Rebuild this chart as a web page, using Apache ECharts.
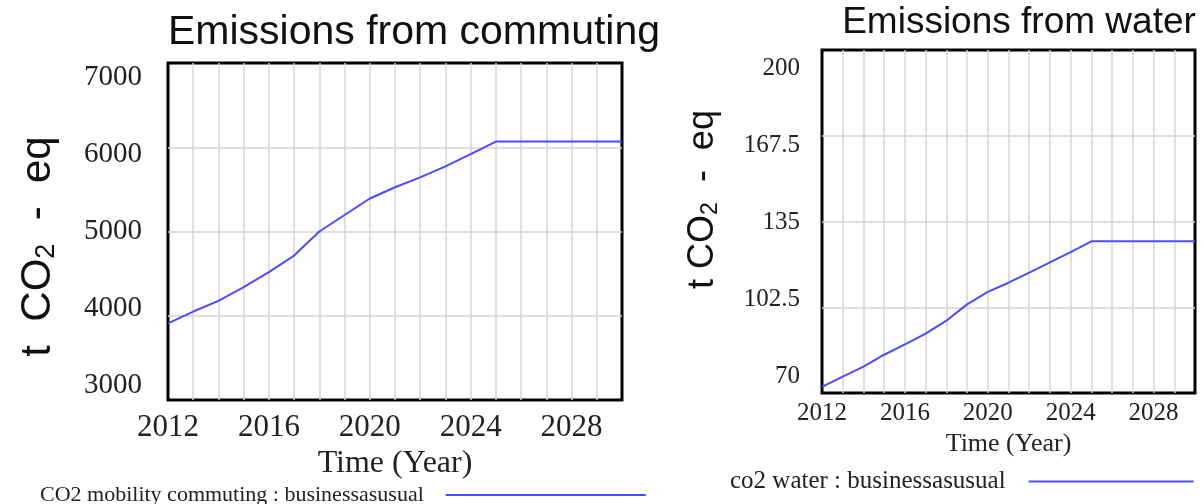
<!DOCTYPE html>
<html>
<head>
<meta charset="utf-8">
<script src="https://cdn.jsdelivr.net/npm/echarts@6/dist/echarts.min.js"></script>
<style>
html,body{margin:0;padding:0;background:#fff;}
#chart{width:1204px;height:504px;}
</style>
</head>
<body>
<div id="chart"></div>
<script>
// ---- data ----
const years = [2012,2013,2014,2015,2016,2017,2018,2019,2020,2021,2022,2023,2024,2025,2026,2027,2028,2029,2030];
const commuting = [3910,4050,4176,4340,4518,4714,5000,5196,5392,5525,5643,5773,5918,6067,6067,6067,6067,6067,6067];
const water = [72.3,76.2,80.0,84.5,88.4,92.5,97.4,103.6,108.3,111.8,115.6,119.5,123.4,127.5,127.5,127.5,127.5,127.5,127.5];
const xTickLabels = [2012,2016,2020,2024,2028];
const commutingTicks = [3000,4000,5000,6000,7000];
const waterTicks = [70,102.5,135,167.5,200];
const commutingName = 'CO2 mobility commuting : businessasusual';
const waterName = 'co2 water : businessasusual';

const LINE = '#4b4bff';
const GRIDC = '#d6d6d6';
const serif = '"Liberation Serif","Times New Roman",serif';
const sans = '"Liberation Sans",Arial,sans-serif';

// Vensim-style labels: evenly spread between an inset top and bottom position
function yLabelFmt(ticks){
  return function(v){
    const i = ticks.findIndex(t => Math.abs(t - v) < 1e-9);
    return '{r' + i + '|' + v + '}';
  };
}
function yRich(fs, n, topShift, botShift){
  const r = {};
  for (let k = 0; k < n; k++){
    const s = botShift + (topShift - botShift) * k / (n - 1); // >0 means move down
    const pad = s >= 0 ? [2*s,0,0,0] : [0,0,-2*s,0];
    r['r'+k] = {fontFamily:serif,fontSize:fs,color:'#222',padding:pad};
  }
  return r;
}
function yName(fs, sfs){
  return {
    rich:{
      a:{fontFamily:sans,fontSize:fs,color:'#111'},
      s:{fontFamily:sans,fontSize:sfs,color:'#111',padding:[Math.round(fs*0.4),0,0,0]}
    }
  };
}

const chart = echarts.init(document.getElementById('chart'), null, {renderer:'canvas'});
const option = {
  animation:false,
  backgroundColor:'#fff',
  title:[
    {text:'Emissions from commuting',left:409,top:7,textAlign:'center',
     textStyle:{fontFamily:sans,fontSize:41,fontWeight:'normal',color:'#111'}},
    {text:'Emissions from water',left:1014,top:-1,textAlign:'center',
     textStyle:{fontFamily:sans,fontSize:37,fontWeight:'normal',color:'#111'}}
  ],
  legend:[
    {data:[commutingName],left:40,top:484,padding:0,align:'right',icon:'rect',itemWidth:200,itemHeight:2,itemGap:0,
     textStyle:{fontFamily:serif,fontSize:22,color:'#222',padding:[0,17,0,0]}},
    {data:[waterName],left:730,top:469,padding:0,align:'right',icon:'rect',itemWidth:165,itemHeight:2,itemGap:0,
     textStyle:{fontFamily:serif,fontSize:25,color:'#222',padding:[0,18,0,0]}}
  ],
  grid:[
    {left:168,top:63,width:454,height:337,show:true,borderColor:'#000',borderWidth:3,backgroundColor:'#fff'},
    {left:822,top:50,width:373,height:343,show:true,borderColor:'#000',borderWidth:3,backgroundColor:'#fff'}
  ],
  xAxis:[
    {gridIndex:0,type:'value',min:years[0],max:years[years.length-1],interval:1,
     name:'Time (Year)',nameLocation:'middle',nameGap:46,
     nameTextStyle:{fontFamily:serif,fontSize:32,color:'#222'},
     axisLine:{show:false},axisTick:{show:false},
     axisLabel:{customValues:xTickLabels,margin:12,fontFamily:serif,fontSize:31,color:'#222',formatter:v=>String(v)},
     splitLine:{show:true,showMinLine:false,showMaxLine:false,lineStyle:{color:GRIDC,width:1.5}}},
    {gridIndex:1,type:'value',min:years[0],max:years[years.length-1],interval:1,
     name:'Time (Year)',nameLocation:'middle',nameGap:34,
     nameTextStyle:{fontFamily:serif,fontSize:26,color:'#222'},
     axisLine:{show:false},axisTick:{show:false},
     axisLabel:{customValues:xTickLabels,margin:8,fontFamily:serif,fontSize:25,color:'#222',formatter:v=>String(v)},
     splitLine:{show:true,showMinLine:false,showMaxLine:false,lineStyle:{color:GRIDC,width:1.5}}}
  ],
  yAxis:[
    {gridIndex:0,type:'value',min:commutingTicks[0],max:commutingTicks[commutingTicks.length-1],
     name:'{a|t  CO}{s|2}{a|  -  eq}',nameLocation:'middle',nameGap:108,nameRotate:90,
     nameTextStyle:Object.assign(yName(42,27),{padding:[0,30,0,0]}),
     axisLine:{show:false},
     axisTick:{show:false,customValues:commutingTicks},
     axisLabel:{customValues:commutingTicks,margin:26,formatter:yLabelFmt(commutingTicks),rich:yRich(29,5,14,-15)},
     splitLine:{show:true,showMinLine:false,showMaxLine:false,lineStyle:{color:GRIDC,width:1.5}}},
    {gridIndex:1,type:'value',min:waterTicks[0],max:waterTicks[waterTicks.length-1],
     name:'{a|t CO}{s|2}{a|  -  eq}',nameLocation:'middle',nameGap:100,nameRotate:90,
     nameTextStyle:Object.assign(yName(36,23),{padding:[0,0,0,44]}),
     axisLine:{show:false},
     axisTick:{show:false,customValues:waterTicks},
     axisLabel:{customValues:waterTicks,margin:22,formatter:yLabelFmt(waterTicks),rich:yRich(25,5,18,-17)},
     splitLine:{show:true,showMinLine:false,showMaxLine:false,lineStyle:{color:GRIDC,width:1.5}}}
  ],
  series:[
    {name:commutingName,type:'line',xAxisIndex:0,yAxisIndex:0,symbol:'none',smooth:false,
     data:years.map((y,i)=>[y,commuting[i]]),lineStyle:{color:LINE,width:2},itemStyle:{color:LINE}},
    {name:waterName,type:'line',xAxisIndex:1,yAxisIndex:1,symbol:'none',smooth:false,
     data:years.map((y,i)=>[y,water[i]]),lineStyle:{color:LINE,width:2},itemStyle:{color:LINE}}
  ]
};
chart.setOption(option);
</script>
</body>
</html>
